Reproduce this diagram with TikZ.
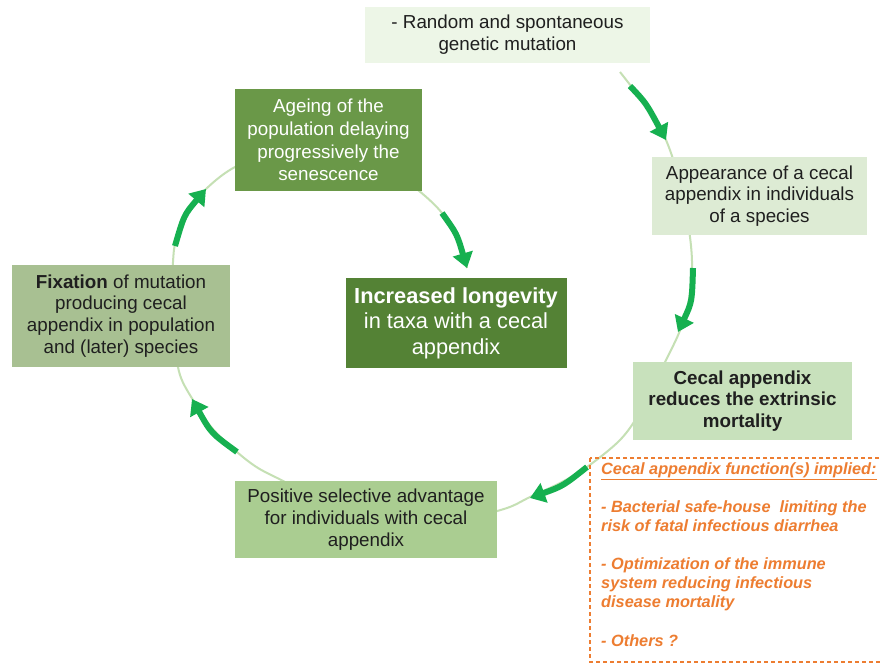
\documentclass[tikz,border=0pt]{standalone}
\usepackage{fontspec}
\setmainfont{Liberation Sans}
\usetikzlibrary{arrows.meta}
\definecolor{cycleline}{RGB}{197,224,180}
\definecolor{arrowgreen}{RGB}{22,176,80}
\definecolor{fillrand}{RGB}{237,246,231}
\definecolor{fillappear}{RGB}{221,235,212}
\definecolor{fillcecal}{RGB}{200,225,188}
\definecolor{fillpos}{RGB}{170,205,145}
\definecolor{fillfix}{RGB}{168,192,146}
\definecolor{fillage}{RGB}{106,152,72}
\definecolor{fillincr}{RGB}{84,130,53}
\definecolor{orangetxt}{RGB}{237,125,49}
\tikzset{
  stagebox/.style={fill=#1, align=center, inner sep=0pt, text=black!88,
    font=\fontsize{18.8}{21.8}\selectfont},
  thinloop/.style={draw=cycleline, line width=2pt},
  bigarrow/.style={draw=arrowgreen, line width=6pt,
    -{Triangle[length=15pt 0, width=20pt 0]}},
}
\begin{document}
\begin{tikzpicture}[x=1pt,y=-1pt]
\path[use as bounding box] (0,0) rectangle (880,667);
\clip (0,0) rectangle (880,667);
\fill[white] (0,0) rectangle (880,667);

% thin cycle line
\draw[thinloop] plot[smooth, tension=0.55] coordinates {
  (620,72) (645,105) (666,140) (682,190) (690,237) (692,270) (688,305)
  (679,333) (662,368) (640,412) (620,440) (587,467) (560,483) (530,497)
  (507,508) (470,517) (420,521) (360,514) (310,497) (285,482) (258,468)
  (237,452) (212,428) (193,400) (180,375) (174,340) (172,300) (173,262)
  (176,240) (188,212) (206,189) (235,167) (280,150) (330,145) (380,162)
  (418,190) (442,213) (456,238) (467,268)};

% boxes
\node[stagebox=fillrand, minimum width=285pt, minimum height=56pt] (rand) at (507.5,35)
  {- Random and spontaneous\\genetic mutation};
\node[stagebox=fillappear, minimum width=215pt, minimum height=78pt] (appear) at (759.5,196)
  {Appearance of a cecal\\appendix in individuals\\of a species};
\node[stagebox=fillcecal, minimum width=219pt, minimum height=78pt,
  font=\fontsize{18.8}{21.8}\selectfont\bfseries] (cecal) at (742.5,401)
  {Cecal appendix\\reduces the extrinsic\\mortality};
\node[stagebox=fillpos, minimum width=262pt, minimum height=77pt] (pos) at (366,519.5)
  {Positive selective advantage\\for individuals with cecal\\appendix};
\node[stagebox=fillfix, minimum width=218pt, minimum height=102pt] (fix) at (121,316)
  {\textbf{Fixation} of mutation\\producing cecal\\appendix in population\\and (later) species};
\node[stagebox=fillage, minimum width=187pt, minimum height=102pt, text=white,
  font=\fontsize{18.8}{22.7}\selectfont] (age) at (328.5,140)
  {Ageing of the\\population delaying\\progressively the\\senescence};
\node[stagebox=fillincr, minimum width=221pt, minimum height=90pt, text=white,
  font=\fontsize{21.8}{25.5}\selectfont] (incr) at (456,323)
  {\textbf{Increased longevity}\\in taxa with a cecal\\appendix};

% function box
\draw[orangetxt, line width=1.4pt, dash pattern=on 4pt off 3pt] (590,458) rectangle (884,662);
\node[anchor=north west, align=left, inner sep=0pt, text=orangetxt,
  font=\fontsize{16.3}{19}\selectfont\bfseries\itshape] (func) at (601,462)
  {\underline{Cecal appendix function(s) implied:}\\[19pt]
   - Bacterial safe-house\ \ limiting the\\
   risk of fatal infectious diarrhea\\[19pt]
   - Optimization of the immune\\
   system reducing infectious\\
   disease mortality\\[20pt]
   - Others ?};

% thick arrows
\coordinate (a1s) at (630,86);  \coordinate (a1e) at (666,140);
\coordinate (a2s) at (693,268); \coordinate (a2e) at (678,332);
\coordinate (a3s) at (587,467); \coordinate (a3e) at (530,498);
\coordinate (a4s) at (237,452); \coordinate (a4e) at (192,399);
\coordinate (a5s) at (175,246); \coordinate (a5e) at (206,189);
\coordinate (a6s) at (442,213); \coordinate (a6e) at (467,268);
\draw[bigarrow] (a1s) .. controls (646,103) .. (a1e);
\draw[bigarrow] (a2s) .. controls (692,302) .. (a2e);
\draw[bigarrow] (a3s) .. controls (563,486) .. (a3e);
\draw[bigarrow] (a4s) .. controls (211,433) .. (a4e);
\draw[bigarrow] (a5s) .. controls (184,215) .. (a5e);
\draw[bigarrow] (a6s) .. controls (457,234) .. (a6e);
\end{tikzpicture}
\end{document}
